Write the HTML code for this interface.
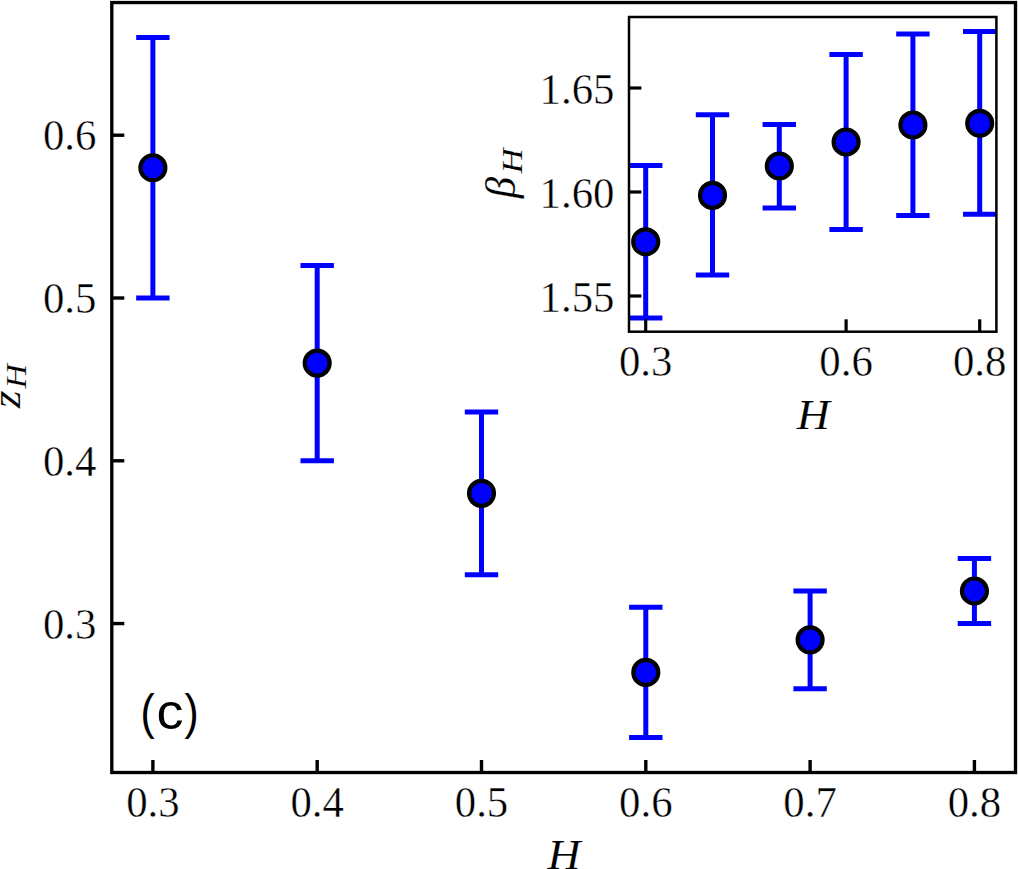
<!DOCTYPE html>
<html><head><meta charset="utf-8"><style>
html,body{margin:0;padding:0;background:#fff;}
body{width:1018px;height:869px;overflow:hidden;}
svg{display:block;}
.t{font-family:"Liberation Serif", serif;font-size:42.8px;fill:#000;stroke:#fff;stroke-width:0.4px;}
.i{font-style:italic;stroke-width:0.15px;}
.sub{font-size:30.5px;}
.sub2{font-size:29.5px;}
.s{font-family:"Liberation Sans", sans-serif;font-size:50px;fill:#000;}
</style></head><body>
<svg width="1018" height="869" viewBox="0 0 1018 869">
<defs>
<clipPath id="cm"><rect x="111.8" y="2.55" width="903.70" height="769.95"/></clipPath>
<clipPath id="ci"><rect x="629.0" y="17.0" width="367.40" height="314.70"/></clipPath>
</defs>
<rect x="0" y="0" width="1018" height="869" fill="#fff"/>
<g clip-path="url(#cm)">
<line x1="152.88" y1="37.55" x2="152.88" y2="298.00" stroke="#0000ff" stroke-width="5.0"/>
<line x1="136.18" y1="37.55" x2="169.58" y2="37.55" stroke="#0000ff" stroke-width="5.0"/>
<line x1="136.18" y1="298.00" x2="169.58" y2="298.00" stroke="#0000ff" stroke-width="5.0"/>
<line x1="317.19" y1="265.44" x2="317.19" y2="460.78" stroke="#0000ff" stroke-width="5.0"/>
<line x1="300.49" y1="265.44" x2="333.89" y2="265.44" stroke="#0000ff" stroke-width="5.0"/>
<line x1="300.49" y1="460.78" x2="333.89" y2="460.78" stroke="#0000ff" stroke-width="5.0"/>
<line x1="481.50" y1="411.94" x2="481.50" y2="574.72" stroke="#0000ff" stroke-width="5.0"/>
<line x1="464.80" y1="411.94" x2="498.20" y2="411.94" stroke="#0000ff" stroke-width="5.0"/>
<line x1="464.80" y1="574.72" x2="498.20" y2="574.72" stroke="#0000ff" stroke-width="5.0"/>
<line x1="645.80" y1="607.28" x2="645.80" y2="737.50" stroke="#0000ff" stroke-width="5.0"/>
<line x1="629.10" y1="607.28" x2="662.50" y2="607.28" stroke="#0000ff" stroke-width="5.0"/>
<line x1="629.10" y1="737.50" x2="662.50" y2="737.50" stroke="#0000ff" stroke-width="5.0"/>
<line x1="810.11" y1="591.00" x2="810.11" y2="688.67" stroke="#0000ff" stroke-width="5.0"/>
<line x1="793.41" y1="591.00" x2="826.81" y2="591.00" stroke="#0000ff" stroke-width="5.0"/>
<line x1="793.41" y1="688.67" x2="826.81" y2="688.67" stroke="#0000ff" stroke-width="5.0"/>
<line x1="974.42" y1="558.44" x2="974.42" y2="623.56" stroke="#0000ff" stroke-width="5.0"/>
<line x1="957.72" y1="558.44" x2="991.12" y2="558.44" stroke="#0000ff" stroke-width="5.0"/>
<line x1="957.72" y1="623.56" x2="991.12" y2="623.56" stroke="#0000ff" stroke-width="5.0"/>
<circle cx="152.88" cy="167.77" r="12.5" fill="#0000ff" stroke="#000" stroke-width="4.17"/>
<circle cx="317.19" cy="363.11" r="12.5" fill="#0000ff" stroke="#000" stroke-width="4.17"/>
<circle cx="481.50" cy="493.33" r="12.5" fill="#0000ff" stroke="#000" stroke-width="4.17"/>
<circle cx="645.80" cy="672.39" r="12.5" fill="#0000ff" stroke="#000" stroke-width="4.17"/>
<circle cx="810.11" cy="639.83" r="12.5" fill="#0000ff" stroke="#000" stroke-width="4.17"/>
<circle cx="974.42" cy="591.00" r="12.5" fill="#0000ff" stroke="#000" stroke-width="4.17"/>
</g>
<line x1="152.88" y1="772.50" x2="152.88" y2="760.00" stroke="#000" stroke-width="3.4"/>
<line x1="317.19" y1="772.50" x2="317.19" y2="760.00" stroke="#000" stroke-width="3.4"/>
<line x1="481.50" y1="772.50" x2="481.50" y2="760.00" stroke="#000" stroke-width="3.4"/>
<line x1="645.80" y1="772.50" x2="645.80" y2="760.00" stroke="#000" stroke-width="3.4"/>
<line x1="810.11" y1="772.50" x2="810.11" y2="760.00" stroke="#000" stroke-width="3.4"/>
<line x1="974.42" y1="772.50" x2="974.42" y2="760.00" stroke="#000" stroke-width="3.4"/>
<line x1="111.80" y1="623.56" x2="124.30" y2="623.56" stroke="#000" stroke-width="3.4"/>
<line x1="111.80" y1="460.78" x2="124.30" y2="460.78" stroke="#000" stroke-width="3.4"/>
<line x1="111.80" y1="298.00" x2="124.30" y2="298.00" stroke="#000" stroke-width="3.4"/>
<line x1="111.80" y1="135.22" x2="124.30" y2="135.22" stroke="#000" stroke-width="3.4"/>
<rect x="111.8" y="2.55" width="903.70" height="769.95" fill="none" stroke="#000" stroke-width="3.33"/>
<text transform="translate(152.88,817.2) scale(1,1.03)" text-anchor="middle" class="t">0.3</text>
<text transform="translate(317.19,817.2) scale(1,1.03)" text-anchor="middle" class="t">0.4</text>
<text transform="translate(481.50,817.2) scale(1,1.03)" text-anchor="middle" class="t">0.5</text>
<text transform="translate(645.80,817.2) scale(1,1.03)" text-anchor="middle" class="t">0.6</text>
<text transform="translate(810.11,817.2) scale(1,1.03)" text-anchor="middle" class="t">0.7</text>
<text transform="translate(974.42,817.2) scale(1,1.03)" text-anchor="middle" class="t">0.8</text>
<text transform="translate(96.4,638.56) scale(1,1.03)" text-anchor="end" class="t">0.3</text>
<text transform="translate(96.4,475.78) scale(1,1.03)" text-anchor="end" class="t">0.4</text>
<text transform="translate(96.4,313.00) scale(1,1.03)" text-anchor="end" class="t">0.5</text>
<text transform="translate(96.4,150.22) scale(1,1.03)" text-anchor="end" class="t">0.6</text>
<text transform="translate(564.0,869.2) scale(1.07,1)" text-anchor="middle" class="t i">H</text>
<text transform="translate(19.8,399.4) rotate(-90) scale(1.07,1)" text-anchor="middle" class="t i">z</text>
<text transform="translate(26.0,376.3) rotate(-90) scale(1.15,1)" text-anchor="middle" class="t i sub2">H</text>
<text transform="translate(140.45,729) scale(0.85,1)" class="s">(</text>
<text transform="translate(156.4,729) scale(1.08,1)" class="s">c</text>
<text transform="translate(184.4,729) scale(0.85,1)" class="s">)</text>
<rect x="629.0" y="17.0" width="367.40" height="314.70" fill="#fff"/>
<g clip-path="url(#ci)">
<line x1="645.70" y1="165.50" x2="645.70" y2="318.00" stroke="#0000ff" stroke-width="5.0"/>
<line x1="629.00" y1="165.50" x2="662.40" y2="165.50" stroke="#0000ff" stroke-width="5.0"/>
<line x1="629.00" y1="318.00" x2="662.40" y2="318.00" stroke="#0000ff" stroke-width="5.0"/>
<line x1="712.50" y1="114.80" x2="712.50" y2="275.10" stroke="#0000ff" stroke-width="5.0"/>
<line x1="695.80" y1="114.80" x2="729.20" y2="114.80" stroke="#0000ff" stroke-width="5.0"/>
<line x1="695.80" y1="275.10" x2="729.20" y2="275.10" stroke="#0000ff" stroke-width="5.0"/>
<line x1="779.30" y1="124.40" x2="779.30" y2="208.00" stroke="#0000ff" stroke-width="5.0"/>
<line x1="762.60" y1="124.40" x2="796.00" y2="124.40" stroke="#0000ff" stroke-width="5.0"/>
<line x1="762.60" y1="208.00" x2="796.00" y2="208.00" stroke="#0000ff" stroke-width="5.0"/>
<line x1="846.10" y1="54.50" x2="846.10" y2="229.60" stroke="#0000ff" stroke-width="5.0"/>
<line x1="829.40" y1="54.50" x2="862.80" y2="54.50" stroke="#0000ff" stroke-width="5.0"/>
<line x1="829.40" y1="229.60" x2="862.80" y2="229.60" stroke="#0000ff" stroke-width="5.0"/>
<line x1="912.90" y1="34.00" x2="912.90" y2="215.50" stroke="#0000ff" stroke-width="5.0"/>
<line x1="896.20" y1="34.00" x2="929.60" y2="34.00" stroke="#0000ff" stroke-width="5.0"/>
<line x1="896.20" y1="215.50" x2="929.60" y2="215.50" stroke="#0000ff" stroke-width="5.0"/>
<line x1="979.70" y1="31.40" x2="979.70" y2="214.30" stroke="#0000ff" stroke-width="5.0"/>
<line x1="963.00" y1="31.40" x2="996.40" y2="31.40" stroke="#0000ff" stroke-width="5.0"/>
<line x1="963.00" y1="214.30" x2="996.40" y2="214.30" stroke="#0000ff" stroke-width="5.0"/>
<circle cx="645.70" cy="241.80" r="12.5" fill="#0000ff" stroke="#000" stroke-width="4.17"/>
<circle cx="712.50" cy="195.40" r="12.5" fill="#0000ff" stroke="#000" stroke-width="4.17"/>
<circle cx="779.30" cy="166.00" r="12.5" fill="#0000ff" stroke="#000" stroke-width="4.17"/>
<circle cx="846.10" cy="142.00" r="12.5" fill="#0000ff" stroke="#000" stroke-width="4.17"/>
<circle cx="912.90" cy="125.00" r="12.5" fill="#0000ff" stroke="#000" stroke-width="4.17"/>
<circle cx="979.70" cy="123.30" r="12.5" fill="#0000ff" stroke="#000" stroke-width="4.17"/>
</g>
<line x1="645.70" y1="331.70" x2="645.70" y2="319.30" stroke="#000" stroke-width="3.2"/>
<line x1="846.10" y1="331.70" x2="846.10" y2="319.30" stroke="#000" stroke-width="3.2"/>
<line x1="979.70" y1="331.70" x2="979.70" y2="319.30" stroke="#000" stroke-width="3.2"/>
<line x1="629.00" y1="296.00" x2="641.40" y2="296.00" stroke="#000" stroke-width="3.2"/>
<line x1="629.00" y1="192.00" x2="641.40" y2="192.00" stroke="#000" stroke-width="3.2"/>
<line x1="629.00" y1="88.00" x2="641.40" y2="88.00" stroke="#000" stroke-width="3.2"/>
<rect x="629.0" y="17.0" width="367.40" height="314.70" fill="none" stroke="#000" stroke-width="2.5"/>
<text transform="translate(645.70,375.5) scale(1,1.03)" text-anchor="middle" class="t">0.3</text>
<text transform="translate(846.10,375.5) scale(1,1.03)" text-anchor="middle" class="t">0.6</text>
<text transform="translate(979.70,375.5) scale(1,1.03)" text-anchor="middle" class="t">0.8</text>
<text transform="translate(614.5,311.60) scale(1,1.03)" text-anchor="end" class="t">1.55</text>
<text transform="translate(614.5,207.60) scale(1,1.03)" text-anchor="end" class="t">1.60</text>
<text transform="translate(614.5,103.60) scale(1,1.03)" text-anchor="end" class="t">1.65</text>
<text transform="translate(813.3,428.8) scale(1.07,1)" text-anchor="middle" class="t i">H</text>
<text transform="translate(515,187.6) rotate(-90)" text-anchor="middle" class="t i">β</text>
<text transform="translate(522.0,161.0) rotate(-90) scale(1.14,1)" text-anchor="middle" class="t i sub">H</text>
</svg>
</body></html>
